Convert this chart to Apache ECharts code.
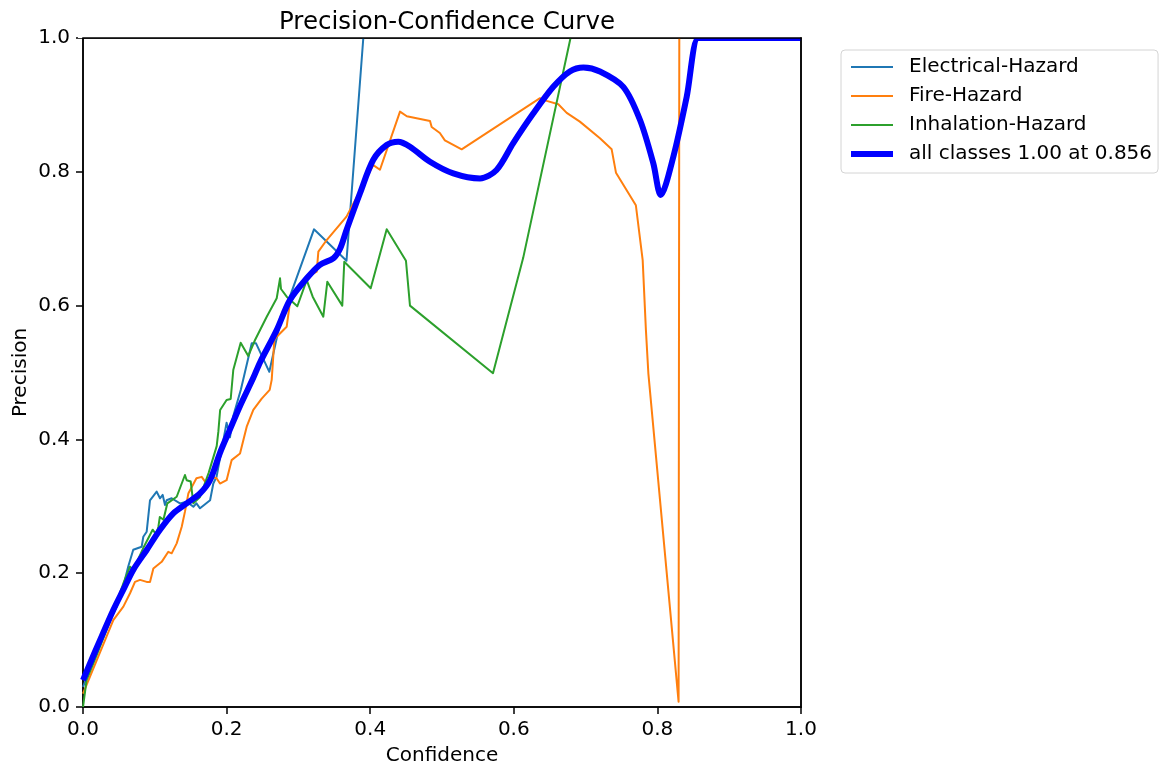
<!DOCTYPE html>
<html><head><meta charset="utf-8">
<script src="https://cdn.jsdelivr.net/npm/echarts@6/dist/echarts.min.js"></script>
<style>html,body{margin:0;padding:0;background:#fff;overflow:hidden}#c{width:1166px;height:771px}</style>
</head><body><div id="c"></div>
<script>
const xTicks = [0, 0.2, 0.4, 0.6, 0.8, 1.0];
const seriesNames = ['Electrical-Hazard', 'Fire-Hazard', 'Inhalation-Hazard', 'all classes 1.00 at 0.856'];

const elecConf = [0, 0.0376, 0.047, 0.056, 0.063, 0.0655, 0.07, 0.0817, 0.084, 0.0887, 0.0933, 0.1026, 0.1072, 0.111, 0.1142, 0.1165, 0.1235, 0.135, 0.1444, 0.1537, 0.158, 0.163, 0.177, 0.1815, 0.186, 0.2, 0.2047, 0.2093, 0.22, 0.235, 0.241, 0.2595, 0.2744, 0.288, 0.3217, 0.367, 0.3904];
const elecPrec = [0.03, 0.13, 0.15, 0.18, 0.21, 0.212, 0.235, 0.2395, 0.2545, 0.262, 0.309, 0.322, 0.312, 0.317, 0.302, 0.309, 0.312, 0.3044, 0.307, 0.2994, 0.3044, 0.297, 0.309, 0.334, 0.344, 0.425, 0.403, 0.435, 0.475, 0.5436, 0.5436, 0.501, 0.5735, 0.613, 0.714, 0.667, 1.0];

const fireConf = [0, 0.0422, 0.0562, 0.0655, 0.0724, 0.0794, 0.0887, 0.0933, 0.098, 0.1096, 0.1188, 0.1235, 0.1305, 0.1375, 0.142, 0.1467, 0.158, 0.1653, 0.17, 0.179, 0.186, 0.1908, 0.2, 0.207, 0.2187, 0.228, 0.2372, 0.2489, 0.26, 0.2628, 0.2665, 0.2698, 0.2837, 0.288, 0.309, 0.3255, 0.3278, 0.3394, 0.367, 0.4043, 0.4136, 0.4415, 0.451, 0.4833, 0.4856, 0.497, 0.504, 0.5274, 0.6365, 0.6458, 0.662, 0.6737, 0.692, 0.72, 0.7363, 0.7423, 0.770, 0.7795, 0.784, 0.7874, 0.8295, 0.8305];
const firePrec = [0.02, 0.13, 0.15, 0.17, 0.187, 0.19, 0.187, 0.187, 0.207, 0.217, 0.232, 0.2297, 0.2446, 0.2695, 0.292, 0.319, 0.3418, 0.344, 0.337, 0.344, 0.342, 0.334, 0.339, 0.369, 0.379, 0.419, 0.444, 0.461, 0.474, 0.489, 0.5486, 0.5535, 0.5685, 0.603, 0.641, 0.6507, 0.6806, 0.698, 0.733, 0.81, 0.803, 0.89, 0.883, 0.876, 0.867, 0.858, 0.847, 0.8336, 0.91, 0.906, 0.901, 0.888, 0.875, 0.85, 0.8336, 0.7987, 0.75, 0.668, 0.5635, 0.4988, 0.008, 1.0];

const inhalConf = [0, 0.005, 0.02, 0.04, 0.0562, 0.0655, 0.07, 0.085, 0.097, 0.102, 0.105, 0.107, 0.112, 0.1175, 0.1305, 0.142, 0.1444, 0.15, 0.1537, 0.163, 0.175, 0.1862, 0.1885, 0.191, 0.2, 0.2057, 0.2093, 0.2196, 0.2302, 0.2396, 0.2559, 0.2698, 0.2744, 0.2758, 0.2837, 0.2985, 0.3116, 0.3199, 0.3347, 0.3403, 0.3611, 0.3639, 0.4007, 0.423, 0.4498, 0.4554, 0.571, 0.613, 0.679];
const inhalPrec = [0, 0.04, 0.08, 0.135, 0.1848, 0.2097, 0.205, 0.24, 0.265, 0.258, 0.2695, 0.284, 0.28, 0.3044, 0.3143, 0.3468, 0.339, 0.337, 0.3044, 0.314, 0.35, 0.39, 0.4115, 0.444, 0.459, 0.4604, 0.5037, 0.5445, 0.5247, 0.5486, 0.5834, 0.611, 0.6408, 0.6248, 0.6133, 0.599, 0.638, 0.6133, 0.5834, 0.6357, 0.6, 0.6656, 0.626, 0.714, 0.667, 0.6, 0.499, 0.671, 1.0];

const allConf = [0, 0.00975, 0.0237, 0.0422, 0.056, 0.07, 0.0887, 0.107, 0.1258, 0.1444, 0.163, 0.1769, 0.1908, 0.2047, 0.2187, 0.2372, 0.2465, 0.2698, 0.288, 0.3116, 0.33, 0.3486, 0.358, 0.367, 0.3858, 0.4043, 0.423, 0.439, 0.4554, 0.4833, 0.5157, 0.553, 0.576, 0.599, 0.627, 0.655, 0.678, 0.697, 0.72, 0.7525, 0.7758, 0.7943, 0.8046, 0.8222, 0.8408, 0.857, 0.87, 1.0];
const allPrec = [0.04, 0.065, 0.1, 0.145, 0.175, 0.205, 0.2347, 0.2646, 0.2895, 0.3044, 0.3194, 0.339, 0.38, 0.415, 0.45, 0.492, 0.515, 0.5635, 0.608, 0.6408, 0.661, 0.6706, 0.685, 0.713, 0.768, 0.818, 0.84, 0.845, 0.8375, 0.815, 0.7976, 0.79, 0.8027, 0.8425, 0.887, 0.927, 0.95, 0.956, 0.95, 0.927, 0.8774, 0.8126, 0.7653, 0.8226, 0.912, 1.0, 1.0, 1.0];

function zip(a, b) { return a.map((v, i) => [v, b[i]]); }
const F = 'DejaVu Sans';
const chart = echarts.init(document.getElementById('c'), null, {renderer: 'canvas'});

function lineSeries(name, conf, prec, color, width, smooth) {
  return {
    name: name, type: 'line', data: zip(conf, prec), symbol: 'none', showSymbol: false,
    smooth: smooth || false,
    lineStyle: {color: color, width: width, join: 'round', cap: 'butt'},
    itemStyle: {color: color}, emphasis: {disabled: true}, silent: true
  };
}

const axisCommon = {
  type: 'value', min: 0, max: 1, interval: 0.2,
  nameLocation: 'middle', nameMoveOverlap: false,
  nameTextStyle: {fontFamily: F, fontSize: 20, color: '#000'},
  axisLine: {show: true, onZero: false, lineStyle: {color: '#000', width: 1.5}},
  axisTick: {show: true, inside: false, length: 7, lineStyle: {color: '#000', width: 1.5}},
  axisLabel: {fontFamily: F, fontSize: 20, color: '#000', formatter: v => v.toFixed(1)},
  splitLine: {show: false}
};

chart.setOption({
  animation: false,
  textStyle: {fontFamily: F},
  title: {
    text: 'Precision-Confidence Curve', left: 442, top: 5, textAlign: 'center',
    textStyle: {fontFamily: F, fontSize: 24.5, fontWeight: 'normal', color: '#000'}
  },
  grid: {left: 83, top: 38, width: 718, height: 669, show: true, borderColor: '#000', borderWidth: 1.5, backgroundColor: 'transparent'},
  legend: {
    orient: 'vertical', left: 841, top: 50,
    itemWidth: 42, itemHeight: 14, itemGap: 9,
    padding: [7, 6, 9, 7],
    backgroundColor: '#fff', borderColor: '#d4d4d4', borderWidth: 1, borderRadius: 4,
    itemStyle: {opacity: 0},
    lineStyle: {width: 'inherit'},
    textStyle: {fontFamily: F, fontSize: 20, color: '#000', padding: [0, 0, 0, 11]},
    data: seriesNames, selectedMode: false
  },
  xAxis: Object.assign({}, axisCommon, {
    name: 'Confidence', nameGap: 39,
    axisLabel: Object.assign({}, axisCommon.axisLabel, {margin: 13})
  }),
  yAxis: Object.assign({}, axisCommon, {
    name: 'Precision', nameGap: 52, nameRotate: 90,
    axisLabel: Object.assign({}, axisCommon.axisLabel, {margin: 13})
  }),
  graphic: [
    {type: 'rect', shape: {x: 78, y: 34, width: 730, height: 4}, style: {fill: '#fff'}, z: 100, silent: true},
    {type: 'line', shape: {x1: 82.25, y1: 38, x2: 801.75, y2: 38}, style: {stroke: '#000', lineWidth: 1.5}, z: 101, silent: true},
    {type: 'line', shape: {x1: 801, y1: 37.25, x2: 801, y2: 707.75}, style: {stroke: '#000', lineWidth: 1.5}, z: 101, silent: true}
  ],
  series: [
    lineSeries(seriesNames[0], elecConf, elecPrec, '#1f77b4', 2),
    lineSeries(seriesNames[1], fireConf, firePrec, '#ff7f0e', 2),
    lineSeries(seriesNames[2], inhalConf, inhalPrec, '#2ca02c', 2),
    lineSeries(seriesNames[3], allConf, allPrec, '#0000ff', 6, 0.3)
  ]
});
</script></body></html>
